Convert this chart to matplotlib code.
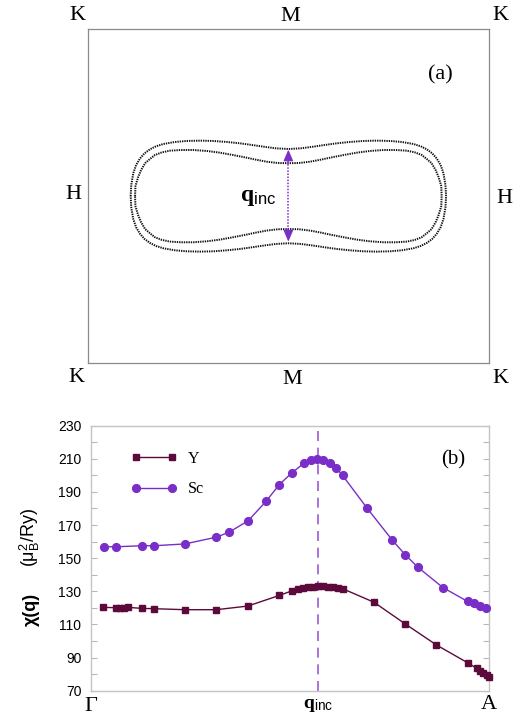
import matplotlib
matplotlib.use("Agg")
import matplotlib.pyplot as plt
from matplotlib.ticker import MultipleLocator
import numpy as np

plt.rcParams["mathtext.fontset"] = "custom"
plt.rcParams["mathtext.rm"] = "Liberation Serif"
plt.rcParams["mathtext.bf"] = "Liberation Serif:bold"
plt.rcParams["mathtext.sf"] = "Liberation Sans"
plt.rcParams["mathtext.it"] = "Liberation Serif:italic"

# --- panel (a): Fermi surface cut, upper half of each sheet (BZ units, K..K = -1..1)
outer_x = [-0.786, -0.783, -0.773, -0.759, -0.739, -0.717, -0.690, -0.660, -0.623, -0.565,
           -0.507, -0.440, -0.374, -0.306, -0.241, -0.181, -0.125, -0.062, 0.000, 0.062,
           0.125, 0.181, 0.241, 0.306, 0.374, 0.440, 0.507, 0.565, 0.623, 0.660,
           0.690, 0.717, 0.739, 0.759, 0.773, 0.783, 0.786]
outer_y = [0.000, 0.067, 0.137, 0.186, 0.226, 0.256, 0.280, 0.298, 0.312, 0.324,
           0.330, 0.332, 0.330, 0.324, 0.316, 0.306, 0.296, 0.286, 0.282, 0.286,
           0.296, 0.306, 0.316, 0.324, 0.330, 0.332, 0.330, 0.324, 0.312, 0.298,
           0.280, 0.256, 0.226, 0.186, 0.137, 0.067, 0.000]
inner_x = [-0.764, -0.762, -0.748, -0.734, -0.714, -0.690, -0.665, -0.630, -0.590, -0.535,
           -0.474, -0.405, -0.341, -0.276, -0.208, -0.161, -0.108, -0.052, 0.000, 0.052,
           0.108, 0.161, 0.208, 0.276, 0.341, 0.405, 0.474, 0.535, 0.590, 0.630,
           0.665, 0.690, 0.714, 0.734, 0.748, 0.762, 0.764]
inner_y = [0.000, 0.061, 0.116, 0.156, 0.197, 0.222, 0.246, 0.262, 0.272, 0.276,
           0.276, 0.270, 0.260, 0.246, 0.230, 0.218, 0.206, 0.198, 0.197, 0.198,
           0.206, 0.218, 0.230, 0.246, 0.260, 0.270, 0.276, 0.276, 0.272, 0.262,
           0.246, 0.222, 0.197, 0.156, 0.116, 0.061, 0.000]
q_top, q_bot = 0.278, -0.272

# --- panel (b): chi(q) along Gamma-A
q_inc = 0.571
sc_k = [0.032, 0.063, 0.127, 0.158, 0.236, 0.315, 0.347, 0.395, 0.440, 0.473,
        0.505, 0.536, 0.552, 0.569, 0.584, 0.600, 0.616, 0.632, 0.694, 0.757,
        0.789, 0.821, 0.884, 0.946, 0.963, 0.977, 0.992]
sc_chi = [156.9, 156.9, 157.5, 157.5, 158.6, 162.7, 165.7, 172.6, 184.4, 194.4,
          201.6, 207.5, 209.3, 210.1, 209.5, 207.7, 204.6, 200.0, 180.1, 160.9,
          152.2, 144.6, 132.3, 123.9, 123.1, 121.3, 120.0]
y_k = [0.031, 0.063, 0.073, 0.084, 0.094, 0.127, 0.158, 0.236, 0.315, 0.394,
       0.473, 0.506, 0.521, 0.533, 0.546, 0.558, 0.571, 0.584, 0.596, 0.609,
       0.621, 0.632, 0.711, 0.789, 0.868, 0.946, 0.969, 0.977, 0.986, 0.994, 1.0]
y_chi = [120.3, 120.1, 120.1, 120.2, 120.3, 119.7, 119.5, 118.9, 118.9, 121.1,
         127.5, 130.4, 131.4, 132.0, 132.4, 132.8, 133.0, 133.2, 132.8, 132.4,
         132.0, 131.6, 123.4, 110.4, 97.6, 86.9, 83.5, 82.0, 80.8, 79.6, 78.4]
chi_ticks = [70, 90, 110, 130, 150, 170, 190, 210, 230]

col_y = "#5c0a3c"
col_sc = "#7a2ec8"
col_q = "#7a2ec8"
serif = "Liberation Serif"

fig = plt.figure(figsize=(5.24, 7.17), dpi=100)

# ---------------- (a)
ax1 = fig.add_axes([0.1674, 0.4933, 0.7658, 0.4663])
ax1.set_xlim(-1, 1)
ax1.set_ylim(-1, 1)
ax1.set_xticks([])
ax1.set_yticks([])
for s in ax1.spines.values():
    s.set_color("#8a8a8a")
    s.set_linewidth(0.9)

for xs, ys in [(outer_x, outer_y), (inner_x, inner_y)]:
    xs = np.array(xs)
    ys = np.array(ys)
    loop_x = np.concatenate([xs, xs[::-1]])
    loop_y = np.concatenate([ys, -ys[::-1]])
    ax1.plot(loop_x, loop_y, color="#111111", lw=1.4, linestyle=(0, (0.7, 0.5)))

ax1.plot([0, 0], [q_bot + 0.05, q_top - 0.05], color=col_q, lw=1.1, linestyle=(0, (1, 1)))
for tip in (q_top, q_bot):
    ax1.annotate("", xy=(0, tip), xytext=(0, tip * 0.75),
                 arrowprops=dict(arrowstyle="-|>,head_length=0.7,head_width=0.3",
                                 color=col_q, lw=0.8, shrinkA=0, shrinkB=0))
ax1.text(-0.06, 0.0, r"$\mathbf{q}_{\mathsf{inc}}$", fontsize=17, ha="right", va="center")

lab_kw = dict(fontsize=16, family=serif, ha="center", va="center")
corner_labels = [(-1.05, 1.083, "K"), (0.008, 1.074, "M"), (1.055, 1.083, "K"),
                 (-1.072, 0.011, "H"), (1.075, -0.017, "H"),
                 (-1.055, -1.086, "K"), (0.017, -1.094, "M"), (1.055, -1.088, "K")]
for x, y, t in corner_labels:
    ax1.text(x, y, t, clip_on=False, **lab_kw)
ax1.text(0.756, 0.725, "(a)", **lab_kw)

# ---------------- (b)
ax2 = fig.add_axes([0.1737, 0.0367, 0.7595, 0.3696])
ax2.set_xlim(0, 1)
ax2.set_ylim(70, 230)

ax2.axvline(q_inc, color="#9a5ad6", lw=1.2, dashes=(6, 4), zorder=1)
ax2.plot(y_k, y_chi, color=col_y, lw=1.0, marker="s", ms=4.6, label="Y", clip_on=False, zorder=3)
ax2.plot(sc_k, sc_chi, color=col_sc, lw=1.0, marker="o", ms=5.6, label="Sc", clip_on=False, zorder=3)

ax2.set_yticks(chi_ticks)
ax2.yaxis.set_minor_locator(MultipleLocator(10))
ax2.tick_params(axis="y", which="both", direction="in", right=True, color="#b8b8b8",
                length=4, width=0.8, labelsize=10, pad=7)
for lbl in ax2.get_yticklabels():
    lbl.set_family("Liberation Sans")

ax2.set_xticks([0, q_inc, 1])
ax2.set_xticklabels([r"$\Gamma$", r"$\mathbf{q}_{\mathsf{inc}}$", "A"])
ax2.tick_params(axis="x", length=0, pad=3, labelsize=15)
xl = ax2.get_xticklabels()
xl[0].set_fontsize(16)
xl[2].set_family(serif)
xl[2].set_fontsize(16)
xl[1].set_fontsize(14)

for s in ax2.spines.values():
    s.set_color("#c4c4c4")
    s.set_linewidth(1.0)

leg = ax2.legend(loc="upper left", bbox_to_anchor=(0.1, 0.905), frameon=False, numpoints=2,
                 handlelength=2.9, handletextpad=0.7, labelspacing=0.9,
                 borderpad=0, borderaxespad=0, prop={"family": serif, "size": 11.5})
ax2.text(0.91, 0.871, "(b)", transform=ax2.transAxes, fontsize=15, family=serif,
         ha="center", va="center")

fig.text(31 / 524, 1 - 609 / 717, "χ(q)", rotation=90, fontsize=13, fontweight="bold",
         family="Liberation Sans", ha="center", va="center")
fig.text(30 / 524, 1 - 537 / 717, r"(μ$_\mathsf{B}^\mathsf{2}$/Ry)", rotation=90, fontsize=13,
         family="Liberation Sans", ha="center", va="center")

fig.savefig("out.png", dpi=100)
